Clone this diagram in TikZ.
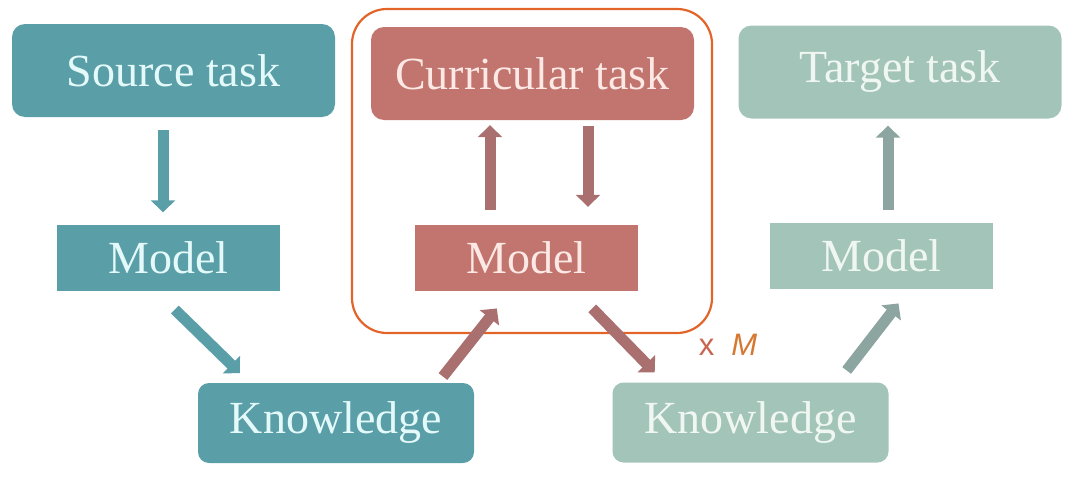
\documentclass[tikz,border=0pt]{standalone}
\usepackage{fontspec}
\setmainfont{Liberation Serif}
\newfontfamily\msans{Liberation Sans}
\usetikzlibrary{arrows.meta}

\definecolor{tealbox}{RGB}{90,158,168}
\definecolor{tealtext}{RGB}{228,250,250}
\definecolor{redbox}{RGB}{193,117,110}
\definecolor{redtext}{RGB}{252,232,228}
\definecolor{redarrow}{RGB}{170,112,112}
\definecolor{greenbox}{RGB}{163,196,184}
\definecolor{greentext}{RGB}{240,247,243}
\definecolor{greenarrow}{RGB}{140,165,160}
\definecolor{frameorange}{RGB}{226,100,40}
\definecolor{repx}{RGB}{200,100,80}
\definecolor{repm}{RGB}{214,120,50}

\begin{document}
\begin{tikzpicture}[x=1pt,y=-1pt,
    taskbox/.style={rounded corners=13pt,minimum width=323pt,minimum height=93pt,inner sep=0pt,font=\fontsize{46}{50}\selectfont},
    modelbox/.style={minimum width=223pt,minimum height=66pt,inner sep=0pt,font=\fontsize{46}{50}\selectfont},
    knowbox/.style={rounded corners=11pt,minimum width=276pt,minimum height=80pt,inner sep=0pt,font=\fontsize{46}{50}\selectfont},
    blockarrow/.style={line width=11pt,-{Triangle[width=24pt,length=12pt]}}]
      \useasboundingbox (0,0) rectangle (1080,482);

      % ソース側
      \node[taskbox,fill=tealbox,text=tealtext] (src) at (173.5,70.5) {Source task};
      \node[modelbox,fill=tealbox,text=tealtext] (mdlA) at (168.5,257.5) {Model};
      \node[knowbox,fill=tealbox,text=tealtext] (knwA) at (336,423) {Knowledge};

      % カリキュラム側
      \draw[frameorange,line width=2.2pt,rounded corners=35pt] (352,9) rectangle (712,333); %枠
      \node[taskbox,fill=redbox,text=redtext] (cur) at (532.5,73.5) {Curricular task};
      \node[modelbox,fill=redbox,text=redtext] (mdlB) at (526.5,258) {Model};
      \node[anchor=base,inner sep=0pt,font=\msans\fontsize{31}{33}\selectfont] (rep) at (728,355) {\textcolor{repx}{x}\hspace{17pt}\textcolor{repm}{\textit{M}}};

      % ターゲット側
      \node[taskbox,fill=greenbox,text=greentext] (tgt) at (900,72) {Target task};
      \node[modelbox,fill=greenbox,text=greentext] (mdlC) at (881.5,256) {Model};
      \node[knowbox,fill=greenbox,text=greentext] (knwB) at (750.5,422.5) {Knowledge};

      % 矢印
      \draw[blockarrow,tealbox,shorten <=13pt,shorten >=12pt] ([xshift=-10.5pt]src.south)--([xshift=-5.5pt]mdlA.north);
      \draw[blockarrow,tealbox,shorten <=27pt,shorten >=14pt] ([xshift=-13pt]mdlA.south)--([xshift=-86pt]knwA.north);
      \draw[blockarrow,redarrow,shorten <=8pt,shorten >=22pt] ([xshift=102pt]knwA.north)--([xshift=-16pt]mdlB.south);
      \draw[blockarrow,redarrow,shorten <=15pt,shorten >=5pt] ([xshift=-36.5pt]mdlB.north)--([xshift=-42.5pt]cur.south);
      \draw[blockarrow,redarrow,shorten <=6pt,shorten >=18pt] ([xshift=55.5pt]cur.south)--([xshift=61.5pt]mdlB.north);
      \draw[blockarrow,redarrow,shorten <=24pt,shorten >=14pt] ([xshift=49pt]mdlB.south)--([xshift=-86pt]knwB.north);
      \draw[blockarrow,greenarrow,shorten <=15pt,shorten >=18pt] ([xshift=87pt]knwB.north)--([xshift=28pt]mdlC.south);
      \draw[blockarrow,greenarrow,shorten <=13pt,shorten >=7pt] ([xshift=6.5pt]mdlC.north)--([xshift=-12pt]tgt.south);
\end{tikzpicture}
\end{document}
